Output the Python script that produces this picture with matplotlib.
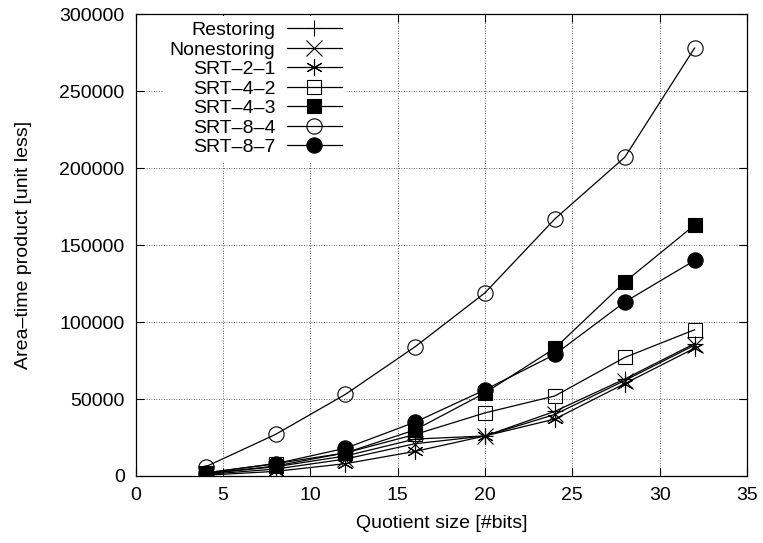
import numpy as np
import matplotlib
matplotlib.use('Agg')
import matplotlib.pyplot as plt

plt.rcParams['font.family'] = ['Liberation Sans', 'DejaVu Sans']

# Data
bits = [4, 8, 12, 16, 20, 24, 28, 32]
restoring = [1500, 6000, 13000, 24000, 26000, 42000, 63000, 86000]
nonrestoring = [1000, 4500, 11000, 21000, 26000, 40000, 62000, 85000]
srt_2_1 = [500, 3000, 8000, 16000, 26000, 37000, 60000, 83000]
srt_4_2 = [2000, 8000, 15000, 27000, 41000, 52000, 77000, 95000]
srt_4_3 = [1500, 6500, 15000, 30000, 54000, 83000, 126000, 163000]
srt_8_4 = [6000, 27000, 53000, 84000, 119000, 167000, 207000, 278000]
srt_8_7 = [2000, 8000, 18000, 35000, 56000, 79000, 113000, 140000]

series = [
    ('Restoring', restoring, dict(marker='+', mfc='none')),
    ('Nonestoring', nonrestoring, dict(marker='x', mfc='none')),
    ('SRT\u20132\u20131', srt_2_1, dict(marker=(6, 2, 0), mfc='none', ms=12)),
    ('SRT\u20134\u20132', srt_4_2, dict(marker='s', mfc='none', ms=10)),
    ('SRT\u20134\u20133', srt_4_3, dict(marker='s', mfc='black', ms=10)),
    ('SRT\u20138\u20134', srt_8_4, dict(marker='o', mfc='none', ms=11)),
    ('SRT\u20138\u20137', srt_8_7, dict(marker='o', mfc='black', ms=11)),
]

fig = plt.figure(figsize=(7.63, 5.43), dpi=100)
ax = fig.add_axes([0.178, 0.1234, 0.801, 0.8506])

for label, vals, style in series:
    kw = dict(color='black', lw=0.9, ms=11, mec='black', mew=0.8)
    kw.update(style)
    ax.plot(bits, vals, label=label, **kw)

ax.set_xlim(0, 35)
ax.set_ylim(0, 300000)
ax.set_xticks(np.arange(0, 36, 5))
ax.set_yticks(np.arange(0, 300001, 50000))
ax.grid(True, linestyle=(0, (1, 2)), color='black', lw=0.6, alpha=0.8)
ax.tick_params(direction='in', length=6, width=0.8, top=True, right=True,
               labelsize=14, pad=8)
for s in ax.spines.values():
    s.set_linewidth(0.9)

ax.set_xlabel('Quotient size [#bits]', fontsize=14, labelpad=8)
ax.set_ylabel('Area\u2013time product [unit less]', fontsize=14, labelpad=20)

leg = ax.legend(loc='upper left', bbox_to_anchor=(0.03, 1.018), markerfirst=False,
                fontsize=14, handlelength=2.8, handletextpad=0.6,
                labelspacing=0.1, borderpad=0.3, frameon=True, fancybox=False)
leg.get_frame().set_facecolor('white')
leg.get_frame().set_edgecolor('none')
leg.get_frame().set_alpha(1)
for t in leg.get_texts():
    t.set_ha('right')
leg._legend_box.align = 'right'

fig.savefig('out.png', dpi=100)
